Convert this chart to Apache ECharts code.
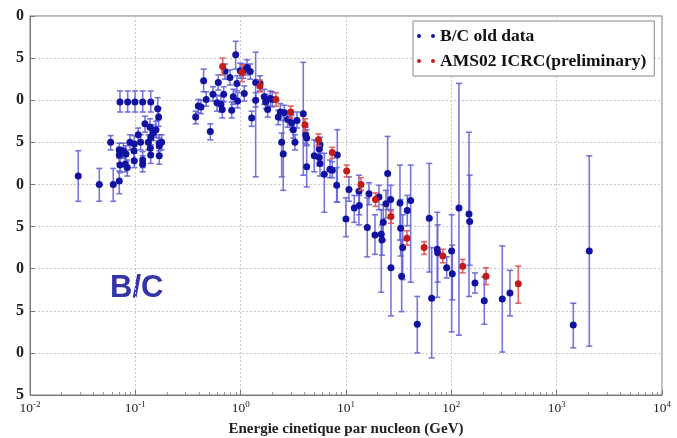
<!DOCTYPE html>
<html>
<head>
<meta charset="utf-8">
<script src="https://cdn.jsdelivr.net/npm/echarts@6/dist/echarts.min.js"></script>
<style>
  html, body { margin: 0; padding: 0; background: #fff; }
  #main { position: absolute; left: 16px; top: 0; width: 661px; height: 438px; }
</style>
</head>
<body>
<div id="main"></div>
<script>
// B/C old data : energie (GeV/n), rapport, borne basse, borne haute
const oldEnergy = [0.0287, 0.0455, 0.0617, 0.0704, 0.0583, 0.0715, 0.0846, 0.0992, 0.1174, 0.140,
  0.0704, 0.0704, 0.0715, 0.0768, 0.0815, 0.0802, 0.0838, 0.0889, 0.0977, 0.0971,
  0.0977, 0.1066, 0.1123, 0.1174, 0.1174, 0.1234, 0.1327, 0.1377, 0.1407, 0.140,
  0.1386, 0.148, 0.157, 0.1665, 0.163, 0.1687, 0.1687, 0.1778, 0.1687,
  0.374, 0.396, 0.420, 0.445, 0.471, 0.515, 0.546, 0.596, 0.613, 0.650,
  0.669, 0.690, 0.710, 0.791, 0.822, 0.851, 0.897, 0.922, 0.936, 0.991,
  1.058, 1.082, 1.148, 1.233, 1.272, 1.388, 1.388, 1.525, 1.675, 1.727,
  1.804, 1.910, 1.995, 2.275, 2.377, 2.451, 2.537, 2.594, 2.794, 3.050,
  3.158, 3.278, 3.424, 3.929, 4.141, 4.233, 4.233, 4.998, 5.575, 5.575,
  5.662, 5.662, 6.220, 7.045, 7.409, 8.264, 8.156, 9.99, 10.67, 11.98,
  13.28, 13.37, 15.92, 16.52, 18.84, 20.56, 21.62, 21.95, 22.58, 23.96,
  24.86, 26.56, 26.73, 32.54, 33.04, 34.51, 33.77, 38.17, 41.11, 47.51,
  61.75, 65.06, 73.55, 74.20, 90.3, 100.7, 102.1, 118.2, 147.1, 149.3,
  167.6, 205.5, 304.5, 360.3, 1438, 2040]
const oldRatio = [0.310, 0.300, 0.300, 0.304, 0.350, 0.398, 0.398, 0.398, 0.398, 0.398,
  0.341, 0.335, 0.323, 0.340, 0.336, 0.324, 0.320, 0.350, 0.348, 0.340,
  0.328, 0.359, 0.350, 0.329, 0.324, 0.372, 0.350, 0.368, 0.356, 0.335,
  0.343, 0.361, 0.365, 0.380, 0.390, 0.334, 0.349, 0.350, 0.346,
  0.380, 0.393, 0.392, 0.423, 0.401, 0.363, 0.407, 0.397, 0.421, 0.395,
  0.389, 0.407, 0.434, 0.427, 0.388, 0.404, 0.454, 0.420, 0.399, 0.435,
  0.435, 0.408, 0.439, 0.434, 0.379, 0.421, 0.400, 0.420, 0.404, 0.398,
  0.389, 0.402, 0.401, 0.380, 0.386, 0.350, 0.336, 0.385, 0.377, 0.373,
  0.365, 0.350, 0.376, 0.384, 0.359, 0.355, 0.321, 0.334, 0.342, 0.332,
  0.325, 0.347, 0.312, 0.318, 0.317, 0.335, 0.299, 0.259, 0.294, 0.272,
  0.292, 0.275, 0.249, 0.289, 0.240, 0.285, 0.241, 0.234, 0.255, 0.277,
  0.313, 0.282, 0.201, 0.278, 0.248, 0.225, 0.191, 0.269, 0.281, 0.134,
  0.260, 0.165, 0.223, 0.219, 0.201, 0.221, 0.194, 0.272, 0.265, 0.256,
  0.183, 0.162, 0.164, 0.171, 0.133, 0.221]
const oldLow = [0.280, 0.280, 0.280, 0.289, 0.341, 0.386, 0.386, 0.386, 0.386, 0.386,
  0.331, 0.325, 0.314, 0.331, 0.327, 0.315, 0.310, 0.341, 0.339, 0.330,
  0.320, 0.350, 0.341, 0.320, 0.315, 0.362, 0.341, 0.358, 0.347, 0.325,
  0.334, 0.352, 0.356, 0.369, 0.376, 0.324, 0.340, 0.341, 0.336,
  0.372, 0.385, 0.384, 0.410, 0.393, 0.353, 0.399, 0.387, 0.412, 0.386,
  0.379, 0.398, 0.425, 0.418, 0.379, 0.395, 0.437, 0.411, 0.391, 0.426,
  0.426, 0.399, 0.430, 0.425, 0.369, 0.309, 0.392, 0.411, 0.395, 0.390,
  0.380, 0.393, 0.392, 0.371, 0.376, 0.309, 0.293, 0.376, 0.368, 0.365,
  0.355, 0.341, 0.367, 0.311, 0.349, 0.346, 0.297, 0.315, 0.333, 0.322,
  0.310, 0.337, 0.267, 0.308, 0.308, 0.279, 0.279, 0.238, 0.280, 0.255,
  0.252, 0.264, 0.214, 0.276, 0.217, 0.270, 0.172, 0.216, 0.234, 0.260,
  0.270, 0.264, 0.144, 0.234, 0.215, 0.187, 0.149, 0.251, 0.184, 0.100,
  0.196, 0.094, 0.166, 0.184, 0.189, 0.125, 0.163, 0.121, 0.167, 0.204,
  0.171, 0.134, 0.101, 0.144, 0.106, 0.108]
const oldHigh = [0.340, 0.319, 0.319, 0.316, 0.358, 0.411, 0.411, 0.411, 0.411, 0.411,
  0.349, 0.344, 0.333, 0.349, 0.346, 0.334, 0.329, 0.359, 0.358, 0.349,
  0.337, 0.367, 0.359, 0.339, 0.334, 0.381, 0.359, 0.378, 0.366, 0.344,
  0.353, 0.371, 0.375, 0.391, 0.403, 0.343, 0.359, 0.359, 0.355,
  0.387, 0.401, 0.400, 0.437, 0.410, 0.372, 0.416, 0.406, 0.430, 0.405,
  0.399, 0.416, 0.443, 0.436, 0.398, 0.413, 0.470, 0.429, 0.409, 0.444,
  0.443, 0.417, 0.448, 0.443, 0.387, 0.457, 0.409, 0.429, 0.413, 0.407,
  0.399, 0.411, 0.410, 0.388, 0.396, 0.361, 0.388, 0.394, 0.387, 0.382,
  0.376, 0.359, 0.386, 0.445, 0.368, 0.365, 0.347, 0.353, 0.352, 0.343,
  0.341, 0.356, 0.337, 0.329, 0.327, 0.365, 0.320, 0.284, 0.309, 0.287,
  0.311, 0.287, 0.284, 0.302, 0.264, 0.299, 0.270, 0.252, 0.276, 0.293,
  0.357, 0.299, 0.270, 0.323, 0.282, 0.264, 0.234, 0.287, 0.323, 0.167,
  0.325, 0.225, 0.267, 0.252, 0.214, 0.264, 0.228, 0.420, 0.362, 0.311,
  0.195, 0.190, 0.227, 0.198, 0.159, 0.334]

// AMS02 ICRC (preliminaire)
const amsEnergy = [0.675, 1.029, 1.525, 2.163, 2.984, 4.078, 5.478, 7.409, 10.15, 13.87,
  19.05, 26.73, 37.93, 55.24, 82.94, 128.2, 213.3, 432.0]
const amsRatio = [0.440, 0.433, 0.417, 0.401, 0.386, 0.371, 0.353, 0.338, 0.316, 0.300,
  0.282, 0.262, 0.236, 0.225, 0.215, 0.203, 0.191, 0.182]
const amsLow = [0.430, 0.422, 0.410, 0.393, 0.379, 0.363, 0.346, 0.331, 0.309, 0.293,
  0.274, 0.254, 0.228, 0.217, 0.207, 0.195, 0.181, 0.159]
const amsHigh = [0.450, 0.442, 0.424, 0.409, 0.393, 0.378, 0.360, 0.344, 0.323, 0.308,
  0.290, 0.268, 0.245, 0.232, 0.223, 0.211, 0.201, 0.203]

const yTicks = { min: 0.05, max: 0.5, step: 0.05 }
const xRange = { min: 0.01, max: 10000 }

const oldName = 'B/C old data'
const amsName = 'AMS02 ICRC(preliminary)'

function rows(e, r, lo, hi) {
  return e.map((x, i) => [x, r[i], lo[i], hi[i]])
}

// barre d'erreur verticale avec petits chapeaux
function errorBar(color) {
  return function (params, api) {
    const x = api.value(0)
    const top = api.coord([x, api.value(3)])
    const bot = api.coord([x, api.value(2)])
    const w = 3
    const style = { stroke: color, lineWidth: 1.6 }
    return {
      type: 'group',
      children: [
        { type: 'line', shape: { x1: top[0], y1: top[1], x2: bot[0], y2: bot[1] }, style },
        { type: 'line', shape: { x1: top[0] - w, y1: top[1], x2: top[0] + w, y2: top[1] }, style },
        { type: 'line', shape: { x1: bot[0] - w, y1: bot[1], x2: bot[0] + w, y2: bot[1] }, style }
      ]
    }
  }
}

const oldRows = rows(oldEnergy, oldRatio, oldLow, oldHigh)
const amsRows = rows(amsEnergy, amsRatio, amsLow, amsHigh)

const serif = 'Liberation Serif'
const myChart = echarts.init(document.getElementById('main'))

myChart.setOption({
  animation: false,
  grid: {
    left: 14,
    right: 15,
    top: 16,
    bottom: 43,
    containLabel: false,
    outerBoundsMode: 'none',
    show: true,
    borderColor: '#7a7a7a',
    borderWidth: 1,
    backgroundColor: '#fff'
  },
  xAxis: {
    type: 'log',
    logBase: 10,
    min: xRange.min,
    max: xRange.max,
    splitNumber: 6,
    name: 'Energie cinetique par nucleon (GeV)',
    nameLocation: 'middle',
    nameGap: 27,
    nameTextStyle: { fontFamily: serif, fontWeight: 'bold', fontSize: 15, color: '#222' },
    axisLine: { lineStyle: { color: '#7a7a7a' } },
    axisTick: { inside: true, length: 5, lineStyle: { color: '#7a7a7a' } },
    minorTick: { show: true, splitNumber: 9, length: 3, lineStyle: { color: '#999' } },
    axisLabel: {
      margin: 5,
      formatter: function (v) {
        const e = Math.round(Math.log10(v))
        return '{b|10}{s|' + e + '}'
      },
      rich: {
        b: { fontFamily: serif, fontSize: 13.5, color: '#222' },
        s: { fontFamily: serif, fontSize: 9, color: '#222', padding: [0, 0, 8, 0] }
      }
    },
    splitLine: { show: true, lineStyle: { color: '#c8c8c8', type: [2, 2] } }
  },
  yAxis: {
    type: 'value',
    min: yTicks.min,
    max: yTicks.max,
    interval: yTicks.step,
    axisLine: { show: true, lineStyle: { color: '#7a7a7a' } },
    axisTick: { show: true, inside: true, length: 5, lineStyle: { color: '#7a7a7a' } },
    axisLabel: {
      margin: 6,
      fontFamily: serif,
      fontWeight: 'bold',
      fontSize: 16,
      color: '#222',
      formatter: v => v.toFixed(2)
    },
    splitLine: { show: true, lineStyle: { color: '#c8c8c8', type: [2, 2] } }
  },
  legend: {
    data: [oldName, amsName],
    orient: 'vertical',
    left: 397,
    top: 21,
    backgroundColor: '#fff',
    borderColor: '#888',
    borderWidth: 1,
    borderRadius: 0,
    padding: [6, 8, 6, 4],
    itemGap: 7,
    itemWidth: 18,
    itemHeight: 4,
    icon: 'path://M0,2a2,2 0 1,0 4,0a2,2 0 1,0 -4,0M14,2a2,2 0 1,0 4,0a2,2 0 1,0 -4,0',
    textStyle: { fontFamily: serif, fontWeight: 'bold', fontSize: 17.5, color: '#111' }
  },
  graphic: [
    {
      type: 'text',
      left: 94,
      top: 273,
      style: {
        text: 'B/C',
        font: 'bold 31px "Liberation Sans"',
        fill: '#3434a6'
      }
    }
  ],
  series: [
    {
      name: 'old-err',
      type: 'custom',
      renderItem: errorBar('rgba(95, 95, 215, 0.85)'),
      data: oldRows,
      encode: { x: 0, y: 1 },
      z: 2
    },
    {
      name: oldName,
      type: 'scatter',
      data: oldRows,
      encode: { x: 0, y: 1 },
      symbolSize: 7,
      itemStyle: { color: '#1212a2', opacity: 1 },
      z: 3
    },
    {
      name: 'ams-err',
      type: 'custom',
      renderItem: errorBar('rgba(225, 85, 85, 0.9)'),
      data: amsRows,
      encode: { x: 0, y: 1 },
      z: 4
    },
    {
      name: amsName,
      type: 'scatter',
      data: amsRows,
      encode: { x: 0, y: 1 },
      symbolSize: 7,
      itemStyle: { color: '#c41a1a', opacity: 1 },
      z: 5
    }
  ]
})
</script>
</body>
</html>
